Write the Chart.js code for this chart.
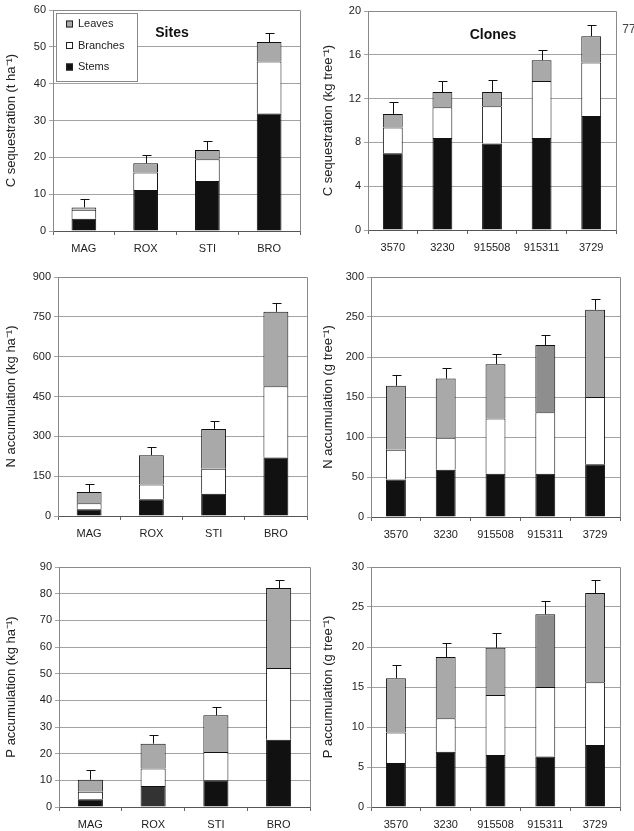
<!DOCTYPE html>
<html>
<head>
<meta charset="utf-8">
<script src="https://cdn.jsdelivr.net/npm/chart.js"></script>
<style>
  body { margin: 0; background: #fff; width: 634px; height: 831px; position: relative; overflow: hidden;
         font-family: "Liberation Sans", Arial, sans-serif; }
  canvas { position: absolute; }
  .lbl { position: absolute; transform: translate(-50%, -50%); white-space: nowrap; color: #111; }
  .bold { font-weight: bold; font-size: 14px; }
</style>
</head>
<body>
<canvas id="cSites"></canvas>
<canvas id="cClones"></canvas>
<canvas id="nSites"></canvas>
<canvas id="nClones"></canvas>
<canvas id="pSites"></canvas>
<canvas id="pClones"></canvas>
<div class="lbl bold" style="left:172px;top:32px">Sites</div>
<div class="lbl bold" style="left:493px;top:34px">Clones</div>
<div class="lbl" style="left:629px;top:29px;font-size:12px;color:#444">77</div>

<script>
// categories
const sites = ["MAG", "ROX", "STI", "BRO"];
const clones = ["3570", "3230", "915508", "915311", "3729"];

// C sequestration (t/ha, kg/tree)
const cSitesStems = [3.3, 11.1, 13.6, 31.9];
const cSitesBranches = [2.5, 4.8, 5.9, 14.1];
const cSitesLeaves = [0.6, 2.5, 2.5, 5.3];
const cSitesErr = [2.2, 2.2, 2.3, 2.4];

const cClonesStems = [7.0, 8.4, 7.9, 8.4, 10.4];
const cClonesBranches = [2.35, 2.8, 3.4, 5.2, 4.9];
const cClonesLeaves = [1.25, 1.4, 1.3, 1.9, 2.4];
const cClonesErr = [1.1, 1.0, 1.1, 0.9, 1.0];

// N accumulation (kg/ha, g/tree)
const nSitesStems = [25, 63, 84, 220];
const nSitesBranches = [23, 56, 94, 269];
const nSitesLeaves = [42, 110, 150, 280];
const nSitesErr = [29, 32, 28, 33];

const nClonesStems = [47, 59, 54, 54, 66];
const nClonesBranches = [37, 40, 69, 77, 84];
const nClonesLeaves = [80, 74, 68, 84, 109];
const nClonesErr = [13, 13, 13, 12, 13];

// P accumulation (kg/ha, g/tree)
const pSitesStems = [2.9, 7.9, 10, 25.2];
const pSitesBranches = [2.85, 6.5, 10.6, 26.9];
const pSitesLeaves = [4.5, 9.35, 13.8, 30];
const pSitesErr = [3.5, 3.1, 3.1, 3.1];

const pClonesStems = [5.5, 6.9, 6.5, 6.3, 7.75];
const pClonesBranches = [3.8, 4.2, 7.5, 8.7, 7.85];
const pClonesLeaves = [6.8, 7.65, 5.9, 9.1, 11.15];
const pClonesErr = [1.65, 1.75, 1.8, 1.7, 1.65];

Chart.defaults.font.family = "'Liberation Sans', Arial, sans-serif";
Chart.defaults.color = "#222";

const STEM = "#111111";
const BRANCH = "#ffffff";
const LEAF = "#a9a9a9";
const LEAF_DARK = "#8e8e8e";

// error whiskers above the stacked total
const errorBars = {
  id: "errorBars",
  afterDatasetsDraw(chart, args, opts) {
    const errs = opts.values;
    if (!errs) return;
    const ctx = chart.ctx;
    const yS = chart.scales.y;
    const sets = chart.data.datasets;
    const topMeta = chart.getDatasetMeta(sets.length - 1);
    ctx.save();
    ctx.strokeStyle = "#111";
    ctx.lineWidth = 1;
    topMeta.data.forEach((bar, i) => {
      let total = 0;
      sets.forEach(d => total += d.data[i]);
      const yE = Math.round(yS.getPixelForValue(total + errs[i])) + 0.5;
      const x = Math.round(bar.x) + 0.5;
      ctx.beginPath();
      ctx.moveTo(x, bar.y);
      ctx.lineTo(x, yE);
      ctx.moveTo(x - 4, yE);
      ctx.lineTo(x + 5, yE);
      ctx.stroke();
    });
    ctx.restore();
  }
};

// top and right frame lines of the plot area
const frame = {
  id: "frame",
  beforeDatasetsDraw(chart) {
    const { ctx, chartArea: a } = chart;
    ctx.save();
    ctx.strokeStyle = "#8a8a8a";
    ctx.lineWidth = 1;
    ctx.beginPath();
    ctx.moveTo(Math.round(a.left) + 0.5, Math.round(a.top) + 0.5);
    ctx.lineTo(Math.round(a.right) + 0.5, Math.round(a.top) + 0.5);
    ctx.lineTo(Math.round(a.right) + 0.5, Math.round(a.bottom) + 0.5);
    ctx.stroke();
    ctx.restore();
  }
};

// boxed legend inside the first panel
const boxLegend = {
  id: "boxLegend",
  afterDraw(chart, args, opts) {
    if (!opts.show) return;
    const ctx = chart.ctx;
    ctx.save();
    ctx.fillStyle = "#fff";
    ctx.strokeStyle = "#888";
    ctx.lineWidth = 1;
    ctx.fillRect(opts.x, opts.y, opts.w, opts.h);
    ctx.strokeRect(opts.x + 0.5, opts.y + 0.5, opts.w, opts.h);
    ctx.font = "11px 'Liberation Sans', Arial, sans-serif";
    ctx.textBaseline = "middle";
    const sets = chart.data.datasets.slice().reverse();
    sets.forEach((d, k) => {
      const cy = opts.y + 11 + k * 21.5;
      const fill = Array.isArray(d.backgroundColor) ? d.backgroundColor[0] : d.backgroundColor;
      ctx.fillStyle = fill;
      ctx.fillRect(opts.x + 10, cy - 3.5, 7, 7);
      ctx.strokeStyle = "#222";
      ctx.strokeRect(opts.x + 10.5, cy - 3, 6, 6);
      ctx.fillStyle = "#222";
      ctx.fillText(d.label, opts.x + 22, cy);
    });
    ctx.restore();
  }
};

function makePanel(id, box, plot, labels, stems, branches, leaves, errs, yMax, yStep, yTitle, colors, legend) {
  const cv = document.getElementById(id);
  cv.width = box.w; cv.height = box.h;
  cv.style.left = box.x + "px"; cv.style.top = box.y + "px";
  cv.style.width = box.w + "px"; cv.style.height = box.h + "px";
  const yW = plot.l - box.x;
  const xH = box.y + box.h - plot.b;
  return new Chart(cv, {
    type: "bar",
    data: {
      labels: labels,
      datasets: [
        { label: "Stems", data: stems, backgroundColor: colors.stems || STEM, borderColor: "#111", borderWidth: 1 },
        { label: "Branches", data: branches, backgroundColor: BRANCH, borderColor: "#111", borderWidth: 1 },
        { label: "Leaves", data: leaves, backgroundColor: colors.leaves || LEAF, borderColor: "#111", borderWidth: 1 }
      ]
    },
    options: {
      responsive: false,
      animation: false,
      devicePixelRatio: 1,
      barPercentage: 0.4,
      categoryPercentage: 1,
      layout: { padding: { left: 0, top: plot.t - box.y, right: box.x + box.w - plot.r, bottom: 0 } },
      plugins: {
        legend: { display: false },
        tooltip: { enabled: false },
        errorBars: { values: errs },
        boxLegend: legend || { show: false }
      },
      scales: {
        x: {
          stacked: true,
          afterFit: s => { s.height = xH; },
          grid: { drawOnChartArea: false, offset: true, tickLength: 4, color: "#666" },
          border: { color: "#555" },
          ticks: { font: { size: 11 }, color: "#222", padding: 7, maxRotation: 0, autoSkip: false }
        },
        y: {
          stacked: true,
          min: 0, max: yMax,
          afterFit: s => { s.width = yW; },
          grid: { color: "#a3a3a3", tickLength: 4 },
          border: { color: "#888" },
          ticks: { stepSize: yStep, font: { size: 11 }, color: "#222", padding: 3 },
          title: { display: true, text: yTitle, font: { size: 13 }, color: "#222", padding: { top: 4, bottom: 4 } }
        }
      }
    },
    plugins: [frame, errorBars, boxLegend]
  });
}

makePanel("cSites", { x: 0, y: 0, w: 317, h: 265 }, { l: 53, r: 300, t: 10, b: 231 },
  sites, cSitesStems, cSitesBranches, cSitesLeaves, cSitesErr, 60, 10, "C sequestration (t ha\u207B\u00B9)", {},
  { show: true, x: 56, y: 13, w: 81, h: 68 });

makePanel("cClones", { x: 317, y: 0, w: 317, h: 265 }, { l: 368, r: 616, t: 11, b: 230 },
  clones, cClonesStems, cClonesBranches, cClonesLeaves, cClonesErr, 20, 4, "C sequestration (kg tree\u207B\u00B9)", {});

makePanel("nSites", { x: 0, y: 265, w: 317, h: 285 }, { l: 58, r: 307, t: 277, b: 516 },
  sites, nSitesStems, nSitesBranches, nSitesLeaves, nSitesErr, 900, 150, "N accumulation (kg ha\u207B\u00B9)", {});

makePanel("nClones", { x: 317, y: 265, w: 317, h: 285 }, { l: 371, r: 620, t: 277, b: 517 },
  clones, nClonesStems, nClonesBranches, nClonesLeaves, nClonesErr, 300, 50, "N accumulation (g tree\u207B\u00B9)",
  { leaves: [LEAF, LEAF, LEAF, LEAF_DARK, LEAF] });

makePanel("pSites", { x: 0, y: 550, w: 317, h: 281 }, { l: 59, r: 310, t: 567, b: 807 },
  sites, pSitesStems, pSitesBranches, pSitesLeaves, pSitesErr, 90, 10, "P accumulation (kg ha\u207B\u00B9)",
  { stems: [STEM, "#333", STEM, STEM] });

makePanel("pClones", { x: 317, y: 550, w: 317, h: 281 }, { l: 371, r: 620, t: 567, b: 807 },
  clones, pClonesStems, pClonesBranches, pClonesLeaves, pClonesErr, 30, 5, "P accumulation (g tree\u207B\u00B9)",
  { leaves: [LEAF, LEAF, LEAF, LEAF_DARK, LEAF] });
</script>
</body>
</html>
